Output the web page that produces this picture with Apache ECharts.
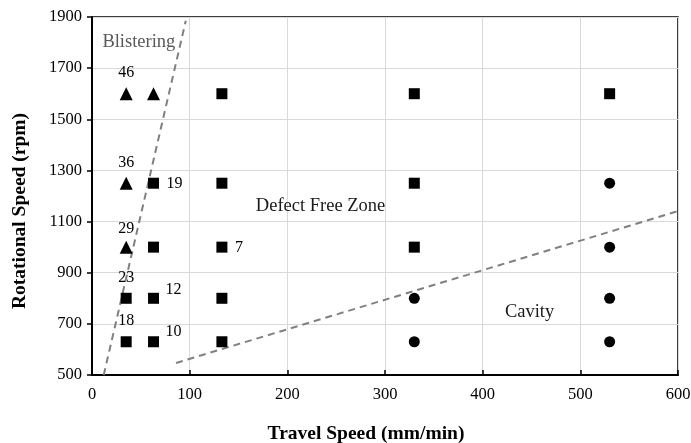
<!DOCTYPE html>
<html>
<head>
<meta charset="utf-8">
<script src="https://cdn.jsdelivr.net/npm/echarts@6/dist/echarts.min.js"></script>
<style>
  html, body { margin: 0; padding: 0; background: #fff; }
  #chart { width: 691px; height: 443px; }
</style>
</head>
<body>
<div id="chart"></div>
<script>
// Welding trials: travel speed (mm/min) vs rotational speed (rpm)
const blistering = [[35, 1600], [63, 1600], [35, 1250], [35, 1000]];
const defectFree = [
  [35, 800], [35, 630],
  [63, 1250], [63, 1000], [63, 800], [63, 630],
  [133, 1600], [133, 1250], [133, 1000], [133, 800], [133, 630],
  [330, 1600], [330, 1250], [330, 1000],
  [530, 1600]
];
const cavity = [[330, 800], [330, 630], [530, 1250], [530, 1000], [530, 800], [530, 630]];

// numbers written beside individual trials
const noteX = [35, 35, 35, 35, 35, 63, 63, 63, 133];
const noteY = [1600, 1250, 1000, 800, 630, 1250, 800, 630, 1000];
const noteText = ['46', '36', '29', '23', '18', '19', '12', '10', '7'];

// zone boundary lines
const blisterBoundary = [[12, 500], [96, 1885]];
const cavityBoundary = [[86, 547], [607, 1149]];

// zone captions
const zoneNames = ['Blistering', 'Defect Free Zone', 'Cavity'];
const zoneX = [48, 234, 448];
const zoneY = [1800, 1162, 745];

const xTicks = { min: 0, max: 600, interval: 100 };
const yTicks = { min: 500, max: 1900, interval: 200 };

const serif = '"Liberation Serif", "DejaVu Serif", serif';
const noteOffsets = [[0, -21], [0, -20], [0, -18], [0, -20], [0, -21], [21, 1], [20, -8], [20, -10], [17, 1]];
const solidBlack = { color: '#000', opacity: 1 };

const chart = echarts.init(document.getElementById('chart'));
chart.setOption({
  animation: false,
  backgroundColor: '#fff',
  grid: {
    left: 92, right: 13, top: 17, bottom: 68,
    outerBoundsMode: 'none', containLabel: false,
    show: true, borderColor: '#000', borderWidth: 1.5
  },
  xAxis: {
    type: 'value', min: xTicks.min, max: xTicks.max, interval: xTicks.interval,
    name: 'Travel Speed (mm/min)', nameLocation: 'middle', nameGap: 49,
    nameTextStyle: {
      fontFamily: serif, fontSize: 19.5, fontWeight: 'bold', color: '#000',
      padding: [0, 38, 0, 0]
    },
    axisLine: { lineStyle: { color: '#000', width: 2 } },
    axisTick: { inside: true, length: 5, lineStyle: { color: '#000', width: 1.5 } },
    axisLabel: { fontFamily: serif, fontSize: 16.5, color: '#000', margin: 11 },
    splitLine: { lineStyle: { color: '#d9d9d9', width: 1 } }
  },
  yAxis: {
    type: 'value', min: yTicks.min, max: yTicks.max, interval: yTicks.interval,
    name: 'Rotational Speed (rpm)', nameLocation: 'middle', nameGap: 62,
    nameTextStyle: {
      fontFamily: serif, fontSize: 19.5, fontWeight: 'bold', color: '#000',
      padding: [0, 30, 0, 0]
    },
    axisLine: { lineStyle: { color: '#000', width: 2 } },
    axisTick: { show: true, length: 5, lineStyle: { color: '#000', width: 1.5 } },
    axisLabel: {
      fontFamily: serif, fontSize: 16.5, color: '#000', margin: 10,
      formatter: v => String(v)
    },
    splitLine: { lineStyle: { color: '#d9d9d9', width: 1 } }
  },
  series: [
    {
      type: 'line', data: blisterBoundary, symbol: 'none', clip: false,
      lineStyle: { color: '#808080', width: 2, type: [7, 5] }, z: 1
    },
    {
      type: 'line', data: cavityBoundary, symbol: 'none', clip: false,
      lineStyle: { color: '#808080', width: 2, type: [7, 5] }, z: 1
    },
    {
      type: 'scatter', data: blistering, symbol: 'triangle', symbolSize: 13,
      itemStyle: solidBlack, z: 3
    },
    {
      type: 'scatter', data: defectFree, symbol: 'rect', symbolSize: 11,
      itemStyle: solidBlack, z: 3
    },
    {
      type: 'scatter', data: cavity, symbol: 'circle', symbolSize: 11,
      itemStyle: solidBlack, z: 3
    },
    {
      type: 'scatter', symbolSize: 0, silent: true, z: 4,
      itemStyle: solidBlack,
      data: noteX.map((x, i) => ({
        value: [x, noteY[i]],
        label: {
          show: true, formatter: noteText[i], position: 'inside',
          offset: noteOffsets[i],
          fontFamily: serif, fontSize: 16, color: '#000'
        }
      }))
    },
    {
      type: 'scatter', symbolSize: 0, silent: true, z: 4,
      itemStyle: solidBlack,
      data: zoneX.map((x, i) => ({
        value: [x, zoneY[i]],
        label: {
          show: true, formatter: zoneNames[i], position: 'inside',
          fontFamily: serif, fontSize: 18.5, color: i === 0 ? '#595959' : '#1a1a1a'
        }
      }))
    }
  ]
});
</script>
</body>
</html>
